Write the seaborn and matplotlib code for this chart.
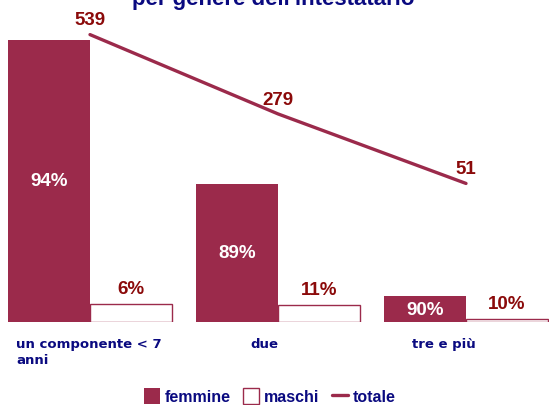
import matplotlib
matplotlib.use("Agg")
import matplotlib.pyplot as plt
import matplotlib.transforms as mtransforms
import seaborn as sns
import pandas as pd

categorie = ["un componente < 7\nanni", "due", "tre e più"]
totale = [539, 279, 51]
femmine_pct = [94, 89, 90]
maschi_pct = [6, 11, 10]

MAROON = "#9B2A4B"
DARKRED = "#8B0A0A"
NAVY = "#0A0A80"

sns.set_theme(style="white")
plt.rcParams["font.family"] = ["Liberation Sans", "DejaVu Sans"]

rows = []
for c, t, f, m in zip(categorie, totale, femmine_pct, maschi_pct):
    rows.append({"cat": c, "genere": "femmine", "n": t * f / 100, "pct": f})
    rows.append({"cat": c, "genere": "maschi", "n": t * m / 100, "pct": m})
df = pd.DataFrame(rows)

W, H = 549, 406
fig = plt.figure(figsize=(W / 100, H / 100), dpi=100)
y0, y1 = 323, 20
ax = fig.add_axes([0, (H - y0) / H, 1, (y0 - y1) / H])

sns.barplot(data=df, x="cat", y="n", hue="genere", order=categorie,
            hue_order=["femmine", "maschi"],
            palette={"femmine": MAROON, "maschi": "white"},
            width=0.872, ax=ax, legend=False, saturation=1)

for cont, g in zip(ax.containers, ["femmine", "maschi"]):
    for bar in cont:
        if g == "maschi":
            bar.set_edgecolor(MAROON)
            bar.set_linewidth(1.0)
        else:
            bar.set_edgecolor("none")

# axis limits (px mapping: x_px = 90 + 188*x)
ax.set_xlim(-90 / 188, (W - 90) / 188)
px_per_unit = 282 / (539 * 0.94)
ax.set_ylim(0, (y0 - y1) / px_per_unit)

# labels
fem_cont, mas_cont = ax.containers[0], ax.containers[1]
for bar, p in zip(fem_cont, femmine_pct):
    ax.text(bar.get_x() + bar.get_width() / 2, bar.get_height() / 2, f"{p}%",
            ha="center", va="center", color="white", fontsize=13.5,
            fontweight="bold")
for bar, p in zip(mas_cont, maschi_pct):
    tr = mtransforms.offset_copy(ax.transData, fig=fig, x=0, y=5, units="points")
    ax.text(bar.get_x() + bar.get_width() / 2, bar.get_height(), f"{p}%",
            ha="center", va="bottom", color=DARKRED, fontsize=13.5,
            fontweight="bold", transform=tr)

ax2 = ax.twinx()
ax2.set_position(ax.get_position())
lp = 0.305
ax2.set_ylim((200 - y0) / lp, (200 - y1) / lp)
sns.lineplot(x=list(range(len(totale))), y=totale, ax=ax2, color=MAROON,
             linewidth=2.4, legend=False)
for i, t in enumerate(totale):
    tr = mtransforms.offset_copy(ax2.transData, fig=fig, x=0, y=4.5, units="points")
    ax2.text(i, t, str(t), ha="center", va="bottom", color=DARKRED,
             fontsize=13.5, fontweight="bold", transform=tr)

for a in (ax, ax2):
    a.set_xticks([])
    a.set_yticks([])
    a.set_xlabel("")
    a.set_ylabel("")
    for s in a.spines.values():
        s.set_visible(False)
ax.patch.set_visible(False)

# category labels
offsets = [-1, -14, -22]
for i, (c, o) in enumerate(zip(categorie, offsets)):
    tr = mtransforms.blended_transform_factory(ax.transData, fig.transFigure)
    tr = tr + mtransforms.ScaledTranslation(o / 100, 0, fig.dpi_scale_trans)
    ax.text(i, (H - 338) / H, c, ha="center", va="top", multialignment="left",
            color=NAVY, fontsize=9.5, fontweight="bold", transform=tr,
            family=["DejaVu Sans"], linespacing=1.35)

# title (cut off at top, as in the reference)
fig.text(273 / W, 1 - 4.5 / H, "per genere dell'intestatario", ha="center",
         va="baseline", color=NAVY, fontsize=16, fontweight="bold")

handles = [fem_cont[0], mas_cont[0], ax2.lines[0]]
fig.legend(handles, ["femmine", "maschi", "totale"], loc="center",
           bbox_to_anchor=(270 / W, 9 / H), ncol=3, frameon=False,
           handlelength=1.0, handleheight=1.2, handletextpad=0.3,
           columnspacing=0.8, borderpad=0,
           prop={"weight": "bold", "size": 11.5})
for t in fig.legends[0].get_texts():
    t.set_color(NAVY)

fig.savefig("out.png", dpi=100)
